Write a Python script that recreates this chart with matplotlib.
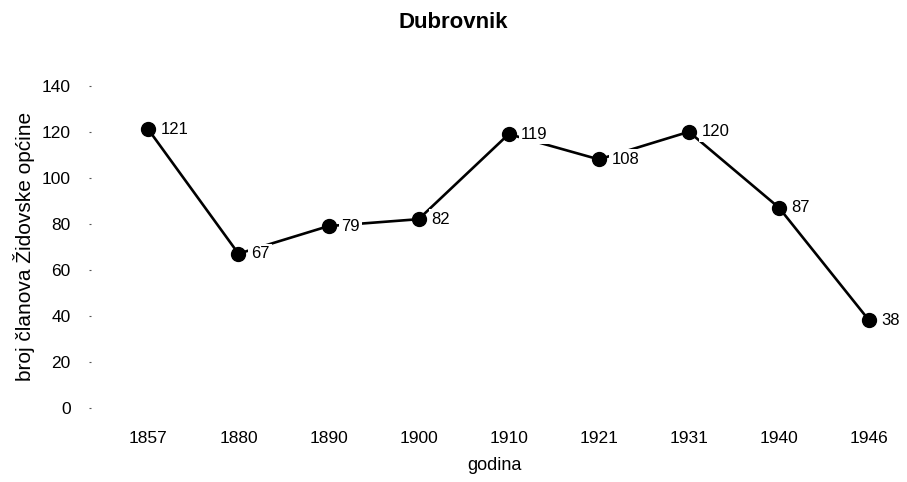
"""Dubrovnik - broj članova Židovske općine"""
import matplotlib.pyplot as plt

years = ['1857', '1880', '1890', '1900', '1910', '1921', '1931', '1940', '1946']
members = [121, 67, 79, 82, 119, 108, 120, 87, 38]
y_ticks = [0, 20, 40, 60, 80, 100, 120, 140]

plt.rcParams['font.family'] = ['Liberation Sans', 'DejaVu Sans']

fig = plt.figure(figsize=(9.07, 4.82), dpi=100)
ax = fig.add_axes([0.1, 0.154, 0.89, 0.668])

x = list(range(len(years)))
ax.plot(x, members, color='black', linewidth=1.9, marker='o',
        markersize=10, zorder=2)

for xi, val in zip(x, members):
    ax.annotate(str(val), (xi, val), xytext=(9, 0), textcoords='offset points',
                ha='left', va='center', fontsize=12, zorder=3,
                bbox=dict(boxstyle='square,pad=0.15', fc='white', ec='none'))

ax.set_xlim(-0.64, 8.32)
ax.set_ylim(0, 140)
ax.set_xticks(x)
ax.set_xticklabels(years)
ax.set_yticks(y_ticks)

for side in ['top', 'right', 'bottom', 'left']:
    ax.spines[side].set_visible(False)
ax.tick_params(axis='x', length=0, pad=17, labelsize=12.5)
ax.tick_params(axis='y', length=1.5, width=0.8, pad=13, labelsize=12.5, color='#555555')

ax.set_xlabel('godina', fontsize=13, labelpad=8)
ax.set_ylabel('broj članova Židovske općine', fontsize=15, labelpad=5)
fig.suptitle('Dubrovnik', fontsize=16, fontweight='bold', y=0.975)

fig.savefig('out.png', dpi=100)
